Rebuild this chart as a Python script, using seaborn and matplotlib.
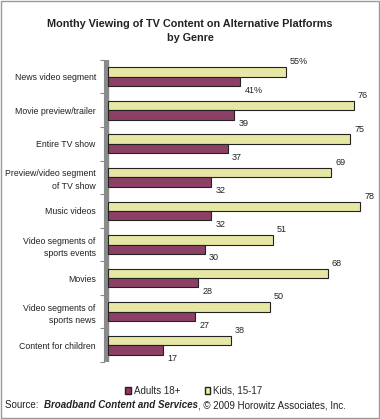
import matplotlib
matplotlib.use("Agg")
import matplotlib.pyplot as plt
import seaborn as sns
import pandas as pd
from matplotlib.patches import Rectangle, Patch

categories = ["News video segment", "Movie preview/trailer", "Entire TV show",
              "Preview/video segment\nof TV show", "Music videos",
              "Video segments of\nsports events", "Movies",
              "Video segments of\nsports news", "Content for children"]
adults = [41, 39, 37, 32, 32, 30, 28, 27, 17]
kids = [55, 76, 75, 69, 78, 51, 68, 50, 38]
series_names = ["Kids, 15-17", "Adults 18+"]
colors = {"Kids, 15-17": "#F2F29A", "Adults 18+": "#993366"}

df = pd.DataFrame({
    "category": categories * 2,
    "value": kids + adults,
    "series": [series_names[0]] * len(categories) + [series_names[1]] * len(categories),
})

sns.set_style("white")
plt.rcParams["font.family"] = ["Liberation Sans", "DejaVu Sans"]

fig = plt.figure(figsize=(3.8, 4.19), dpi=100)
ax = fig.add_axes([0.274, 0.136, 0.716, 0.721])

sns.barplot(data=df, y="category", x="value", hue="series", order=categories,
            hue_order=series_names, palette=colors, orient="h", width=0.56,
            edgecolor="#222222", linewidth=0.8, ax=ax, legend=False)

ax.set_xlim(-1.2, 83)
ax.set_ylim(len(categories) - 0.5, -0.5)
ax.axvspan(-1.2, 0, color="#8a8a8a", zorder=0)
for s in ["top", "right", "bottom"]:
    ax.spines[s].set_visible(False)
ax.spines["left"].set_color("#8a8a8a")
ax.set_xlabel("")
ax.set_ylabel("")
ax.set_xticks([])
ax.set_yticks(range(len(categories)))
ax.set_yticklabels(categories, fontsize=6.3, color="#222222", linespacing=1.5)
ax.set_yticks([i - 0.5 for i in range(len(categories) + 1)], minor=True)
ax.tick_params(axis="y", which="major", length=0, pad=6)
ax.tick_params(axis="y", which="minor", length=3, color="#8a8a8a", width=0.8, left=True)

# value labels
for i, (k, a) in enumerate(zip(kids, adults)):
    kt = f"{k}%" if i == 0 else f"{k}"
    at = f"{a}%" if i == 0 else f"{a}"
    ax.annotate(kt, (k, i - 0.14), xytext=(3, 4), textcoords="offset points",
                fontsize=6.5, color="#222222", va="bottom", ha="left")
    ax.annotate(at, (a, i + 0.14), xytext=(3, -3), textcoords="offset points",
                fontsize=6.5, color="#222222", va="top", ha="left")

fig.text(0.5, 0.955, "Monthy Viewing of TV Content on Alternative Platforms\nby Genre",
         ha="center", va="top", fontsize=7.8, fontweight="bold", color="#222222",
         linespacing=1.5)

# legend
handles = [Patch(facecolor=colors["Adults 18+"], edgecolor="#222222", label="Adults 18+"),
           Patch(facecolor=colors["Kids, 15-17"], edgecolor="#222222", label="Kids, 15-17")]
fig.legend(handles=handles, loc="center", bbox_to_anchor=(0.51, 0.067), ncol=2,
           frameon=False, fontsize=7, handlelength=0.6, handleheight=0.6,
           handletextpad=0.3, columnspacing=2.5)

# source line
t1 = fig.text(0.013, 0.026, "Source:  ", fontsize=7, color="#222222", va="baseline")
t2 = ax.annotate("Broadband Content and Services", xy=(1, 0), xycoords=t1,
                 va="bottom", ha="left", fontsize=7, fontweight="bold",
                 fontstyle="italic", color="#222222")
t3 = ax.annotate(", \u00a9 2009 Horowitz Associates, Inc.", xy=(1, 0), xycoords=t2,
                 va="bottom", ha="left", fontsize=7, color="#222222")

fig.patches.append(Rectangle((0.002, 0.002), 0.996, 0.996, transform=fig.transFigure,
                             fill=False, edgecolor="#999999", linewidth=1))

fig.savefig("out.png", dpi=100)
